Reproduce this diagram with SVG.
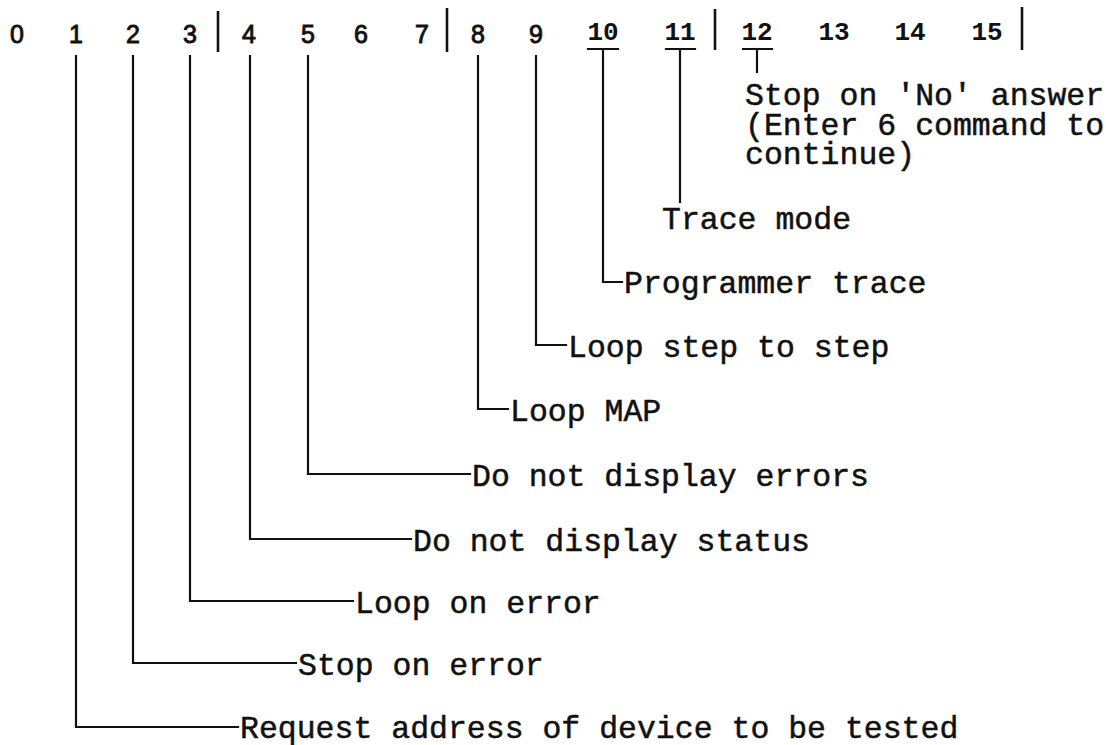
<svg xmlns="http://www.w3.org/2000/svg" width="1106" height="745" viewBox="0 0 1106 745">
<style>
.bg{fill:#ffffff}
.num{font-family:"Liberation Sans",Arial,sans-serif;font-size:25px;fill:#111;stroke:#111;stroke-width:0.9;text-anchor:middle}
.numc{font-family:"Liberation Mono","Courier New",monospace;font-size:26px;font-weight:bold;fill:#111;text-anchor:middle}
.lbl{font-family:"Liberation Mono","Courier New",monospace;font-size:31.5px;fill:#111;stroke:#111;stroke-width:0.5}
.ln{stroke:#111;stroke-width:2.2;fill:none;stroke-linecap:square}
.sep{stroke:#111;stroke-width:2.6;fill:none}
</style>
<rect class="bg" x="0" y="0" width="1106" height="745"/>
<g id="bit-header">
<text class="num" x="17" y="43">0</text>
<text class="num" x="76" y="43">1</text>
<text class="num" x="133" y="43">2</text>
<text class="num" x="190" y="43">3</text>
<text class="num" x="249" y="43">4</text>
<text class="num" x="308" y="43">5</text>
<text class="num" x="361" y="43">6</text>
<text class="num" x="422" y="43">7</text>
<text class="num" x="478" y="43">8</text>
<text class="num" x="536" y="43">9</text>
<text class="numc" x="603" y="40">10</text>
<text class="numc" x="680" y="40">11</text>
<text class="numc" x="757" y="40">12</text>
<text class="numc" x="834" y="40">13</text>
<text class="numc" x="910" y="40">14</text>
<text class="numc" x="987" y="40">15</text>
<line class="sep" x1="218" y1="11" x2="218" y2="52"/>
<line class="sep" x1="447" y1="8" x2="447" y2="52"/>
<line class="sep" x1="715" y1="9" x2="715" y2="50"/>
<line class="sep" x1="1022" y1="7" x2="1022" y2="50"/>
</g>
<g id="connectors">
<polyline class="ln" points="76,56 76,727 238,727"/>
<polyline class="ln" points="133,56 133,663 296,663"/>
<polyline class="ln" points="190,56 190,601 353,601"/>
<polyline class="ln" points="250,56 250,539 411,539"/>
<polyline class="ln" points="308,56 308,474 470,474"/>
<polyline class="ln" points="478,56 478,409 508,409"/>
<polyline class="ln" points="536,56 536,345 566,345"/>
<polyline class="ln" points="603,49 603,282 622,282"/>
<line class="ln" x1="680" y1="49" x2="680" y2="202"/>
<line class="ln" x1="757" y1="49" x2="757" y2="72"/>
<line class="ln" x1="588" y1="49" x2="618" y2="49"/>
<line class="ln" x1="666" y1="49" x2="695" y2="49"/>
<line class="ln" x1="743" y1="49" x2="772" y2="49"/>
</g>
<g id="bit1"><text class="lbl" x="240" y="738">Request address of device to be tested</text></g>
<g id="bit2"><text class="lbl" x="298" y="675">Stop on error</text></g>
<g id="bit3"><text class="lbl" x="355" y="613">Loop on error</text></g>
<g id="bit4"><text class="lbl" x="413" y="551">Do not display status</text></g>
<g id="bit5"><text class="lbl" x="472" y="486">Do not display errors</text></g>
<g id="bit8"><text class="lbl" x="510" y="421">Loop MAP</text></g>
<g id="bit9"><text class="lbl" x="568" y="357">Loop step to step</text></g>
<g id="bit10"><text class="lbl" x="624" y="293">Programmer trace</text></g>
<g id="bit11"><text class="lbl" x="662" y="229">Trace mode</text></g>
<g id="bit12">
<text class="lbl" x="745" y="105"><tspan x="745" y="105">Stop on 'No' answer</tspan><tspan x="745" y="135">(Enter 6 command to</tspan><tspan x="745" y="164">continue)</tspan></text>
</g>
</svg>
